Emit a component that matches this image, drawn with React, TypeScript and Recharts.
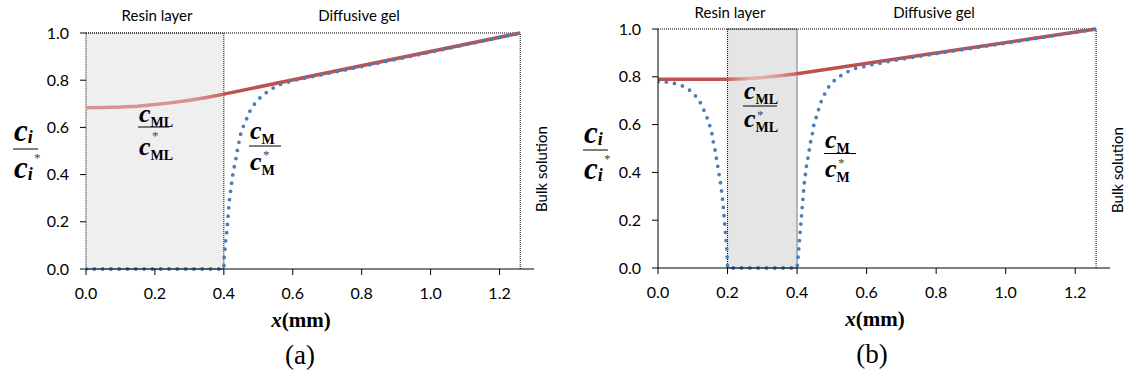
import { LineChart, Line, XAxis, YAxis, ReferenceArea, ReferenceLine } from "recharts";

type Pt = [number, number];

const xTicks = [0, 0.2, 0.4, 0.6, 0.8, 1.0, 1.2];
const yTicks = [0, 0.2, 0.4, 0.6, 0.8, 1.0];
const bulkX = 1.26;

// (a) resin layer 0 – 0.4 mm
const aResin: Pt = [0, 0.4];
const aMlResin: Pt[] = [
  [0, 0.683], [0.05, 0.684], [0.1, 0.686], [0.15, 0.69], [0.2, 0.697],
  [0.25, 0.705], [0.3, 0.715], [0.35, 0.727], [0.4, 0.741],
];
const aMlGel: Pt[] = [[0.4, 0.741], [1.26, 1.0]];
const aM: Pt[] = [
  [0, 0], [0.4, 0], [0.401, 0.046], [0.403, 0.082], [0.405, 0.117], [0.408, 0.149],
  [0.41, 0.183], [0.412, 0.22], [0.414, 0.254], [0.416, 0.289], [0.419, 0.324],
  [0.422, 0.356], [0.425, 0.391], [0.429, 0.425], [0.434, 0.459], [0.438, 0.494],
  [0.443, 0.53], [0.447, 0.563], [0.454, 0.596], [0.464, 0.628], [0.473, 0.662],
  [0.485, 0.691], [0.499, 0.718], [0.517, 0.741], [0.536, 0.761], [0.558, 0.779],
  [0.582, 0.79], [0.606, 0.8], [0.7, 0.828], [0.8, 0.858], [1.0, 0.919], [1.26, 1.0],
];

// (b) resin layer 0.2 – 0.4 mm
const bResin: Pt = [0.2, 0.4];
const bMlLeft: Pt[] = [[0, 0.79], [0.2, 0.79]];
const bMlResin: Pt[] = [[0.2, 0.79], [0.25, 0.792], [0.3, 0.797], [0.35, 0.804], [0.4, 0.813]];
const bMlGel: Pt[] = [[0.4, 0.813], [1.26, 1.0]];
const bM: Pt[] = [
  [0, 0.779], [0.024, 0.778], [0.048, 0.772], [0.07, 0.762], [0.091, 0.744],
  [0.108, 0.72], [0.122, 0.691], [0.132, 0.661], [0.141, 0.629], [0.149, 0.595],
  [0.155, 0.563], [0.159, 0.528], [0.164, 0.494], [0.168, 0.459], [0.172, 0.424],
  [0.176, 0.389], [0.18, 0.355], [0.183, 0.32], [0.186, 0.285], [0.188, 0.25],
  [0.19, 0.218], [0.192, 0.181], [0.194, 0.146], [0.196, 0.111], [0.198, 0.076],
  [0.199, 0.042], [0.2, 0], [0.4, 0], [0.403, 0.048], [0.405, 0.083], [0.407, 0.118],
  [0.409, 0.153], [0.411, 0.188], [0.413, 0.222], [0.415, 0.257], [0.417, 0.292],
  [0.419, 0.327], [0.421, 0.359], [0.424, 0.392], [0.427, 0.427], [0.431, 0.459],
  [0.435, 0.494], [0.439, 0.528], [0.444, 0.563], [0.448, 0.597], [0.455, 0.63],
  [0.462, 0.664], [0.469, 0.695], [0.479, 0.727], [0.491, 0.758], [0.506, 0.783],
  [0.525, 0.804], [0.545, 0.821], [0.566, 0.835], [0.588, 0.841], [0.612, 0.85],
  [0.7, 0.874], [0.8, 0.897], [1.0, 0.941], [1.26, 1.0],
];

const SANS = "Lato, 'Open Sans', sans-serif";
const SERIF = "'Liberation Serif', 'Times New Roman', serif";
const RED = "#c0504d";
const BLUE = "#4a7ebb";

const toRows = (pts: Pt[]) => pts.map(([x, y]) => ({ x, y }));
const fmt = (v: number) => v.toFixed(1);

const tickStyle = { fill: "#000", fontSize: 16, fontFamily: SANS };

interface PanelProps {
  resin: Pt;
  mlParts: { pts: Pt[]; stroke: string }[];
  m: Pt[];
  fill: string;
  showYLine: boolean;
  margin: { top: number; right: number; bottom: number; left: number };
  width: number;
}

const Panel = ({ resin, mlParts, m, fill, showYLine, margin, width }: PanelProps) => (
  <LineChart width={width} height={376} margin={margin}>
    <ReferenceArea
      x1={resin[0]} x2={resin[1]} y1={0} y2={1}
      fill={fill} fillOpacity={1} stroke="#000" strokeDasharray="1 1" strokeWidth={1}
    />
    <ReferenceLine segment={[{ x: 0, y: 1 }, { x: bulkX, y: 1 }]} stroke="#000" strokeDasharray="1 1" />
    <ReferenceLine segment={[{ x: bulkX, y: 0 }, { x: bulkX, y: 1 }]} stroke="#000" strokeDasharray="1 1" />
    <XAxis
      type="number" dataKey="x" domain={[0, 1.3]} ticks={xTicks} tickFormatter={fmt}
      height={30} tickSize={6} tickMargin={13} tick={tickStyle}
      axisLine={{ stroke: "#000" }} tickLine={{ stroke: "#000" }} allowDataOverflow
    />
    <YAxis
      type="number" dataKey="y" domain={[0, 1]} ticks={yTicks} tickFormatter={fmt}
      width={60} tickSize={6} tickMargin={11} tick={tickStyle}
      axisLine={showYLine ? { stroke: "#000" } : false} tickLine={{ stroke: "#000" }}
    />
    {mlParts.map((p, i) => (
      <Line
        key={i} data={toRows(p.pts)} dataKey="y" type="linear" stroke={p.stroke}
        strokeWidth={3.5} dot={false} isAnimationActive={false}
      />
    ))}
    <Line
      data={toRows(m)} dataKey="y" type="linear" stroke={BLUE} strokeWidth={3.8}
      strokeDasharray="0 8.3" strokeLinecap="round" dot={false} isAnimationActive={false}
    />
  </LineChart>
);

interface FracProps {
  x: number; L: number; w: number; sub: string; italicSub?: boolean;
  cSize?: number; subSize?: number; up?: number; down?: number; drop?: number; starDx?: number;
}

// c_sub over c*_sub, drawn as serif text
const Frac = ({ x, L, w, sub, italicSub = false, cSize = 26, subSize = 14, up = 7.5, down = 23, drop = 5, starDx = 13 }: FracProps) => {
  const part = (y: number) => (
    <text x={x} y={y} fontFamily={SERIF} fontWeight="bold" fill="#000">
      <tspan fontStyle="italic" fontSize={cSize}>c</tspan>
      <tspan fontSize={subSize} dy={drop} fontStyle={italicSub ? "italic" : "normal"}>{sub}</tspan>
    </text>
  );
  return (
    <g>
      {part(L - up)}
      <line x1={x - 1} x2={x + w} y1={L} y2={L} stroke="#000" strokeWidth={1} />
      <text x={x + starDx} y={L + 13} fontFamily={SERIF} fontSize={13} fill="#444">*</text>
      {part(L + down)}
    </g>
  );
};

const Overlay = () => (
  <svg width={1127} height={376} style={{ position: "absolute", left: 0, top: 0, pointerEvents: "none" }}>
    <g fontFamily={SANS} fontSize={15} fill="#000" textAnchor="middle">
      <text x={157} y={21}>Resin layer</text>
      <text x={359} y={21}>Diffusive gel</text>
      <text x={730} y={17.5}>Resin layer</text>
      <text x={934} y={17.5}>Diffusive gel</text>
      <text transform="translate(547,169) rotate(-90)">Bulk solution</text>
      <text transform="translate(1123,170) rotate(-90)">Bulk solution</text>
    </g>
    <Frac x={14} L={149} w={24} sub="i" italicSub cSize={31} subSize={18} up={8} down={29} drop={2} starDx={20} />
    <Frac x={139} L={127} w={30} sub="ML" up={5} down={28} />
    <Frac x={250} L={146} w={31} sub="M" down={24} />
    <Frac x={584} L={150} w={24} sub="i" italicSub cSize={31} subSize={18} up={7} down={29} drop={2} starDx={20} />
    <Frac x={744} L={106} w={33} sub="ML" down={21} />
    <Frac x={825} L={153.5} w={31} sub="M" up={5.5} down={23} />
    <g fontFamily={SERIF} fill="#000" textAnchor="middle">
      <text x={301} y={327} fontSize={21} fontWeight="bold">
        <tspan fontStyle="italic">x</tspan>(mm)
      </text>
      <text x={875} y={326} fontSize={21} fontWeight="bold">
        <tspan fontStyle="italic">x</tspan>(mm)
      </text>
      <text x={300} y={364} fontSize={27}>(a)</text>
      <text x={872} y={363} fontSize={27}>(b)</text>
    </g>
  </svg>
);

export default function App() {
  return (
    <div style={{ position: "absolute", left: 0, top: 0, width: 1127, height: 376, background: "#fff" }}>
      <svg width={0} height={0} style={{ position: "absolute" }}>
        <defs>
          <linearGradient id="gradA" x1="0" y1="0" x2="1" y2="0">
            <stop offset="0%" stopColor="#d69391" />
            <stop offset="80%" stopColor="#d69391" />
            <stop offset="100%" stopColor="#c65f5c" />
          </linearGradient>
          <linearGradient id="gradB" x1="0" y1="0" x2="1" y2="0">
            <stop offset="0%" stopColor="#c9625f" />
            <stop offset="35%" stopColor="#e2b3b2" />
            <stop offset="65%" stopColor="#dba3a2" />
            <stop offset="100%" stopColor="#c9625f" />
          </linearGradient>
        </defs>
      </svg>
      <div style={{ position: "absolute", left: 0, top: 0 }}>
        <Panel
          width={560}
          margin={{ top: 33, right: 26, bottom: 77, left: 26 }}
          resin={aResin}
          fill="#efefef"
          showYLine={false}
          mlParts={[{ pts: aMlResin, stroke: "url(#gradA)" }, { pts: aMlGel, stroke: RED }]}
          m={aM}
        />
      </div>
      <div style={{ position: "absolute", left: 560, top: 0 }}>
        <Panel
          width={567}
          margin={{ top: 29, right: 17, bottom: 78, left: 38 }}
          resin={bResin}
          fill="#e5e5e5"
          showYLine
          mlParts={[
            { pts: bMlLeft, stroke: RED },
            { pts: bMlResin, stroke: "url(#gradB)" },
            { pts: bMlGel, stroke: RED },
          ]}
          m={bM}
        />
      </div>
      <Overlay />
    </div>
  );
}
